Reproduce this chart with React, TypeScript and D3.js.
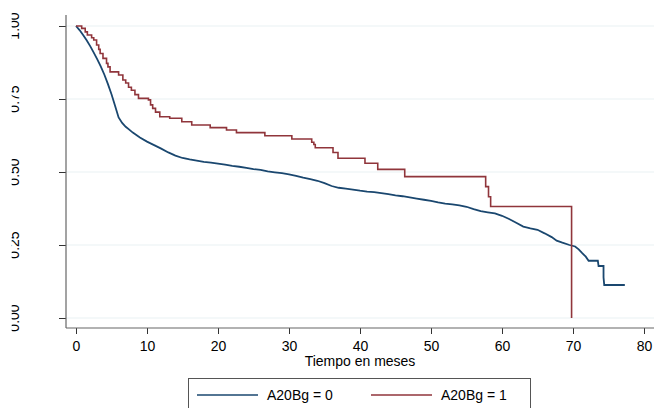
import React, { useEffect, useRef } from 'react';
import * as d3 from 'd3';

// Kaplan-Meier estimates
// group 0 has many events, so it is drawn as a polyline with explicit steps in the tail
const blueTime = [0, 0.5, 1, 1.5, 2, 2.5, 3, 3.5, 4, 4.5, 5, 5.5, 6, 6.5, 7, 7.5, 8, 8.5, 9, 10, 11, 12, 13, 14, 15, 16, 17, 18, 19, 20, 21, 22, 23, 24, 25, 26, 27, 28, 29, 30, 31, 32, 33, 34, 35, 36, 37, 38, 39, 40, 41, 42, 43, 44, 45, 46, 47, 48, 49, 50, 51, 52, 53, 54, 55, 56, 57, 58, 59, 60, 61, 62, 63, 64, 65, 66, 67, 67.7, 68.5, 69.5, 70.3, 70.8, 71.3, 71.8, 72.2, 73.5, 73.6, 74.2, 74.3, 74.3, 74.4, 77.3];
const blueSurv = [1, 0.986, 0.969, 0.951, 0.931, 0.909, 0.886, 0.861, 0.833, 0.801, 0.766, 0.727, 0.687, 0.668, 0.655, 0.645, 0.635, 0.627, 0.618, 0.604, 0.592, 0.58, 0.567, 0.556, 0.548, 0.543, 0.539, 0.535, 0.532, 0.529, 0.525, 0.521, 0.518, 0.514, 0.51, 0.507, 0.502, 0.499, 0.496, 0.492, 0.487, 0.481, 0.476, 0.47, 0.462, 0.452, 0.446, 0.443, 0.44, 0.436, 0.433, 0.431, 0.428, 0.424, 0.42, 0.417, 0.413, 0.409, 0.405, 0.401, 0.396, 0.392, 0.389, 0.386, 0.381, 0.373, 0.366, 0.362, 0.358, 0.35, 0.339, 0.326, 0.313, 0.307, 0.302, 0.29, 0.277, 0.265, 0.258, 0.25, 0.245, 0.235, 0.222, 0.21, 0.196, 0.196, 0.178, 0.178, 0.178, 0.139, 0.113, 0.113];

const redTime = [0, 0.8, 1.3, 1.6, 2.2, 2.5, 2.9, 3.2, 3.4, 3.8, 4.3, 4.5, 4.8, 6.0, 6.6, 7.0, 7.4, 7.8, 8.3, 8.8, 10.2, 10.5, 10.8, 11.2, 11.8, 13.2, 14.9, 16.3, 18.9, 21.2, 22.6, 26.6, 30.4, 33.2, 33.5, 33.7, 36.2, 36.9, 40.7, 42.5, 46.3, 57.7, 58.1, 58.4, 69.8];
const redSurv = [1, 0.992, 0.98, 0.969, 0.96, 0.952, 0.935, 0.92, 0.906, 0.889, 0.872, 0.86, 0.843, 0.832, 0.815, 0.805, 0.79, 0.78, 0.765, 0.752, 0.747, 0.73, 0.718, 0.705, 0.689, 0.684, 0.672, 0.661, 0.652, 0.644, 0.635, 0.624, 0.613, 0.602, 0.594, 0.583, 0.567, 0.547, 0.53, 0.509, 0.484, 0.45, 0.415, 0.382, 0];

const xTicks = [0, 10, 20, 30, 40, 50, 60, 70, 80];
const yTicks = [0, 0.25, 0.5, 0.75, 1];
const legendLabels = ['A20Bg = 0', 'A20Bg = 1'];
const seriesColors = ['#1a476f', '#90353b'];

const App = () => {
  const ref = useRef<SVGSVGElement>(null);

  useEffect(() => {
    const width = 654;
    const height = 408;
    const font = "'Liberation Sans', Arial, sans-serif";

    const svg = d3.select(ref.current);
    svg.selectAll('*').remove();
    svg.attr('width', width).attr('height', height);

    svg.append('rect').attr('width', width).attr('height', height).attr('fill', '#fff');

    const x = d3.scaleLinear().domain([0, 80]).range([76, 644]);
    const y = d3.scaleLinear().domain([0, 1]).range([318, 26]);
    const axisX = 66;
    const axisY = 328;

    // gridlines
    svg.append('g')
      .selectAll('line')
      .data(yTicks)
      .enter()
      .append('line')
      .attr('x1', axisX)
      .attr('x2', width)
      .attr('y1', d => y(d))
      .attr('y2', d => y(d))
      .attr('stroke', '#eaf2f3')
      .attr('stroke-width', 1.2);

    // y axis
    const yAxis = svg.append('g')
      .attr('transform', `translate(${axisX},0)`)
      .call(d3.axisLeft(y).tickValues(yTicks).tickSize(7).tickFormat(() => ''));
    yAxis.select('.domain').remove();
    yAxis.selectAll('line').attr('stroke', '#333');
    svg.append('line')
      .attr('x1', axisX).attr('x2', axisX)
      .attr('y1', 15).attr('y2', axisY)
      .attr('stroke', '#666').attr('stroke-width', 1.2);

    svg.append('clipPath').attr('id', 'ylab-clip')
      .append('rect').attr('x', 11.7).attr('y', 0).attr('width', 40).attr('height', height);

    svg.append('g')
      .attr('clip-path', 'url(#ylab-clip)')
      .selectAll('text')
      .data(yTicks)
      .enter()
      .append('text')
      .attr('transform', d => `translate(18.5,${y(d)}) rotate(-90)`)
      .attr('text-anchor', 'middle')
      .attr('font-family', font)
      .attr('font-size', 14)
      .attr('fill', '#000')
      .text(d => d3.format('.2f')(d));

    // x axis
    const xAxis = svg.append('g')
      .attr('transform', `translate(0,${axisY})`)
      .call(d3.axisBottom(x).tickValues(xTicks).tickSize(6).tickPadding(7));
    xAxis.select('.domain').remove();
    xAxis.selectAll('line').attr('stroke', '#333');
    xAxis.selectAll('text')
      .attr('font-family', font)
      .attr('font-size', 14)
      .attr('fill', '#000');
    svg.append('line')
      .attr('x1', axisX).attr('x2', width)
      .attr('y1', axisY).attr('y2', axisY)
      .attr('stroke', '#666').attr('stroke-width', 1.2);

    svg.append('text')
      .attr('x', x(40))
      .attr('y', 366)
      .attr('text-anchor', 'middle')
      .attr('font-family', font)
      .attr('font-size', 14)
      .text('Tiempo en meses');

    // survival curves
    const blue: [number, number][] = blueTime.map((t, i) => [t, blueSurv[i]]);
    const red: [number, number][] = redTime.map((t, i) => [t, redSurv[i]]);

    const smoothLine = d3.line<[number, number]>()
      .x(d => x(d[0]))
      .y(d => y(d[1]));
    const stepLine = d3.line<[number, number]>()
      .x(d => x(d[0]))
      .y(d => y(d[1]))
      .curve(d3.curveStepAfter);

    svg.append('path')
      .datum(blue)
      .attr('d', smoothLine)
      .attr('fill', 'none')
      .attr('stroke', seriesColors[0])
      .attr('stroke-width', 1.8);

    svg.append('path')
      .datum(red)
      .attr('d', stepLine)
      .attr('fill', 'none')
      .attr('stroke', seriesColors[1])
      .attr('stroke-width', 1.6);

    // legend
    const lg = svg.append('g');
    lg.append('rect')
      .attr('x', 188.5).attr('y', 378.5)
      .attr('width', 342).attr('height', 40)
      .attr('fill', '#fff')
      .attr('stroke', '#555')
      .attr('stroke-width', 1);
    const items = [
      { x0: 197, label: legendLabels[0], color: seriesColors[0] },
      { x0: 371, label: legendLabels[1], color: seriesColors[1] }
    ];
    items.forEach(it => {
      lg.append('line')
        .attr('x1', it.x0).attr('x2', it.x0 + 61)
        .attr('y1', 395).attr('y2', 395)
        .attr('stroke', it.color)
        .attr('stroke-width', 1.6);
      lg.append('text')
        .attr('x', it.x0 + 70)
        .attr('y', 400)
        .attr('font-family', font)
        .attr('font-size', 14)
        .text(it.label);
    });
  }, []);

  return (
    <svg ref={ref} style={{ position: 'absolute', left: 0, top: 0, display: 'block' }} />
  );
};

export default App;
